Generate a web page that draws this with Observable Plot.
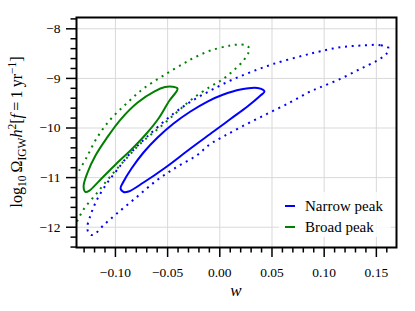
<!DOCTYPE html>
<html>
<head>
<meta charset="utf-8">
<script src="https://cdn.jsdelivr.net/npm/d3@7"></script>
<script src="https://cdn.jsdelivr.net/npm/@observablehq/plot@0.6"></script>
<style>
  html, body { margin: 0; padding: 0; background: #fff; }
  #wrap { position: relative; width: 415px; height: 311px; }
  #legend { position: absolute; left: 279px; top: 192px; width: 112px; height: 45px;
            background: rgba(255,255,255,0.8); font: 15px "Liberation Serif", serif; color: #000; }
  .row { position: absolute; left: 0; height: 16px; line-height: 16px; }
  .sw { position: absolute; left: 6px; top: 7px; width: 10px; height: 2px; }
  .lab { position: absolute; left: 26px; top: 0; white-space: nowrap; }
</style>
</head>
<body>
<div id="wrap"></div>
<script>
// ---- data ----
const seriesNames = ["Narrow peak", "Broad peak"];
const seriesColors = ["#0000ff", "#008000"];

// Narrow peak, inner contour (solid)
const narrowSolidW = [0.0428, 0.0361, 0.0198, 0.0035, -0.0118, -0.0281, -0.0443, -0.0596, -0.0731, -0.0846, -0.0922, -0.0951, -0.0922, -0.0874, -0.0731, -0.0520, -0.0281, -0.0060, 0.0102, 0.0265, 0.0390];
const narrowSolidY = [-9.264, -9.194, -9.224, -9.325, -9.466, -9.667, -9.909, -10.192, -10.494, -10.817, -11.079, -11.220, -11.290, -11.280, -11.099, -10.796, -10.413, -10.071, -9.819, -9.567, -9.345];

// Narrow peak, outer contour (dotted)
const narrowDotW = [0.1616, 0.1539, 0.1348, 0.1156, 0.0965, 0.0802, 0.0517, 0.0294, 0.0102, -0.0089, -0.0261, -0.0446, -0.0702, -0.0862, -0.0989, -0.1085, -0.1181, -0.1245, -0.1270, -0.1258, -0.1229, -0.1191, -0.1117, -0.0989, -0.0798, -0.0606, -0.0415, -0.0223, -0.0089, 0.0035, 0.0198, 0.0421, 0.0677, 0.0852, 0.0965, 0.1156, 0.1348, 0.1508, 0.1597];
const narrowDotY = [-8.387, -8.331, -8.337, -8.371, -8.452, -8.538, -8.706, -8.875, -9.042, -9.244, -9.446, -9.714, -10.185, -10.520, -10.857, -11.125, -11.462, -11.798, -12.0, -12.107, -12.157, -12.127, -11.966, -11.730, -11.395, -11.058, -10.790, -10.554, -10.319, -10.171, -9.984, -9.748, -9.480, -9.278, -9.177, -9.008, -8.806, -8.639, -8.504];

// Broad peak, inner contour (solid)
const broadSolidW = [-0.0405, -0.0450, -0.0525, -0.0625, -0.0790, -0.0951, -0.1085, -0.1191, -0.1267, -0.1305, -0.1286, -0.1248, -0.1151, -0.0989, -0.0856, -0.0702, -0.0587, -0.0482, -0.0415];
const broadSolidY = [-9.204, -9.170, -9.175, -9.260, -9.490, -9.829, -10.208, -10.554, -10.897, -11.179, -11.290, -11.260, -11.058, -10.716, -10.454, -10.111, -9.808, -9.446, -9.264];

// Broad peak, outer contour (dotted, runs out of the left edge)
const broadDotW = [-0.1368, -0.1306, -0.1181, -0.1057, -0.0922, -0.0759, -0.0577, -0.0415, -0.0271, -0.0089, 0.0026, 0.0131, 0.0227, 0.0275, 0.0284, 0.0256, 0.0198, 0.0102, -0.0089, -0.0242, -0.0348, -0.0539, -0.0731, -0.0894, -0.1057, -0.1181, -0.1277, -0.1358];
const broadDotY = [-11.885, -11.643, -11.321, -10.998, -10.675, -10.312, -9.990, -9.687, -9.425, -9.163, -9.022, -8.841, -8.639, -8.478, -8.397, -8.337, -8.317, -8.337, -8.438, -8.579, -8.700, -8.942, -9.204, -9.506, -9.849, -10.212, -10.595, -10.897];

const xMajorTicks = [-0.10, -0.05, 0.00, 0.05, 0.10, 0.15];
const yMajorTicks = [-12, -11, -10, -9, -8];
const xDomain = [-0.1373, 0.1693];
const yDomain = [-12.409, -7.772];

// ---- build tables ----
const toRows = (ws, ys) => ws.map((w, i) => ({w, y: ys[i]}));
const nS = toRows(narrowSolidW, narrowSolidY);
const nD = toRows(narrowDotW, narrowDotY);
const bS = toRows(broadSolidW, broadSolidY);
const bD = toRows(broadDotW, broadDotY);

const xMinorTicks = d3.range(-13, 17).map(v => v / 100).filter(v => !xMajorTicks.some(m => Math.abs(m - v) < 1e-9));
const yMinorTicks = d3.range(-62, -38).map(v => v / 5).filter(v => !yMajorTicks.some(m => Math.abs(m - v) < 1e-9));

const FONT = "'Liberation Serif', serif";
const dot = "2,4.7";
const lineOpts = {x: "w", y: "y", strokeWidth: 2, strokeLinecap: "butt", strokeLinejoin: "round"};

const chart = Plot.plot({
  width: 415, height: 311,
  marginLeft: 76, marginRight: 19, marginTop: 17, marginBottom: 64,
  style: {fontFamily: FONT, fontSize: "13.5px", background: "#fff", color: "#000"},
  x: {domain: xDomain},
  y: {domain: yDomain},
  marks: [
    Plot.gridX(xMajorTicks, {stroke: "#d9d9d9", strokeOpacity: 1, strokeWidth: 1}),
    Plot.gridY(yMajorTicks, {stroke: "#d9d9d9", strokeOpacity: 1, strokeWidth: 1}),
    Plot.line(nD, {...lineOpts, stroke: seriesColors[0], strokeDasharray: dot, curve: "catmull-rom-closed"}),
    Plot.line(nS, {...lineOpts, stroke: seriesColors[0], curve: "catmull-rom-closed"}),
    Plot.line(bD, {...lineOpts, stroke: seriesColors[1], strokeDasharray: dot, curve: "catmull-rom", clip: true}),
    Plot.line(bS, {...lineOpts, stroke: seriesColors[1], curve: "catmull-rom-closed"}),
    Plot.axisX(xMajorTicks, {anchor: "bottom", tickSize: 10, tickPadding: 10, strokeWidth: 1.5, tickFormat: d3.format(".2f"), label: null, fontSize: 13.5}),
    Plot.axisX(xMinorTicks, {anchor: "bottom", tickSize: 5.5, strokeWidth: 1.5, tickFormat: () => "", label: null}),
    Plot.axisY(yMajorTicks, {anchor: "left", tickSize: 10, tickPadding: 6, strokeWidth: 1.5, tickFormat: d3.format("d"), label: null, fontSize: 13.5}),
    Plot.axisY(yMinorTicks, {anchor: "left", tickSize: 5.5, strokeWidth: 1.5, tickFormat: () => "", label: null}),
    Plot.frame({stroke: "#000", strokeWidth: 2})
  ]
});

const wrap = document.getElementById("wrap");
wrap.appendChild(chart);

// axis labels as real text
const svg = d3.select(chart);
svg.append("text")
  .attr("x", 236).attr("y", 296)
  .attr("text-anchor", "middle")
  .style("font-family", FONT).style("font-size", "17px").style("font-style", "italic")
  .text("w");

const yl = svg.append("text")
  .attr("transform", "translate(22,132) rotate(-90)")
  .attr("text-anchor", "middle")
  .style("font-family", FONT).style("font-size", "16px");
const parts = [
  ["log", 0, false],
  ["10", 1, false],
  ["\u2009Ω", 0, false],
  ["IGW", 1, false],
  ["h", 0, true],
  ["2", -1, false],
  ["[", 0, false],
  ["f", 0, true],
  ["\u2009=\u20091\u2009yr", 0, false],
  ["−1", -1, false],
  ["]", 0, false]
];
let cur = 0;
for (const [t, lvl, it] of parts) {
  const target = lvl === 1 ? 4 : lvl === -1 ? -6.5 : 0;
  const ts = yl.append("tspan").attr("dy", target - cur).text(t);
  if (lvl !== 0) ts.style("font-size", "11.5px");
  if (it) ts.style("font-style", "italic");
  cur = target;
}

// legend
const legend = document.createElement("div");
legend.id = "legend";
seriesNames.forEach((name, i) => {
  const row = document.createElement("div");
  row.className = "row";
  row.style.top = (6 + i * 20.5) + "px";
  row.style.width = "112px";
  const sw = document.createElement("div");
  sw.className = "sw";
  sw.style.background = seriesColors[i];
  const lab = document.createElement("div");
  lab.className = "lab";
  lab.textContent = name;
  row.appendChild(sw); row.appendChild(lab);
  legend.appendChild(row);
});
wrap.appendChild(legend);
</script>
</body>
</html>
